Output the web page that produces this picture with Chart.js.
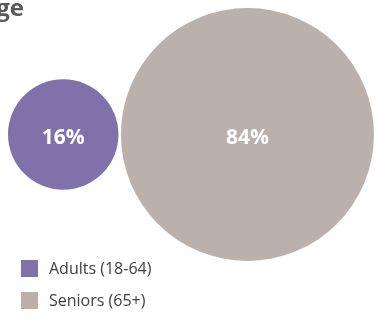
<!DOCTYPE html>
<html>
<head>
<meta charset="utf-8">
<script src="https://cdn.jsdelivr.net/npm/chart.js@4.4.1/dist/chart.umd.min.js"></script>
<style>
  html, body { margin: 0; padding: 0; background: #fff; }
  #wrap { position: relative; width: 381px; height: 320px; overflow: hidden; }
  #legend { position: absolute; left: 21px; top: 259px; font-family: "Open Sans", sans-serif; font-size: 16px; color: #404040; }
  .item { display: flex; align-items: center; height: 18px; margin-bottom: 14px; }
  .box { width: 17px; height: 17px; margin-right: 11px; }
</style>
</head>
<body>
<div id="wrap">
  <canvas id="myChart" width="381" height="320"></canvas>
  <div id="legend"></div>
</div>
<script>
var titleText = 'Age';
var labels = ['Adults (18-64)', 'Seniors (65+)'];
var values = [16, 84];
var colors = ['#7f72ab', '#bab0ac'];

// bubble area proportional to value, circles touching side by side
var maxR = 126.5;
var radii = values.map(function (v) { return maxR * Math.sqrt(v / Math.max.apply(null, values)); });
var xs = [];
var left = 8;
radii.forEach(function (r, i) {
    xs.push(left + r);
    left = left + 2 * r + 2.5;
});
var cy = 134.5;

var datasets = labels.map(function (l, i) {
    return {
        label: l,
        data: [{ x: xs[i], y: cy, r: radii[i], v: values[i] }],
        backgroundColor: colors[i],
        borderWidth: 0,
        hoverBorderWidth: 0,
        clip: false
    };
});

var extras = {
    id: 'extras',
    afterDatasetsDraw: function (chart) {
        var ctx = chart.ctx;
        ctx.save();
        ctx.fillStyle = '#fff';
        ctx.font = 'bold 21px "Open Sans"';
        ctx.textAlign = 'center';
        ctx.textBaseline = 'alphabetic';
        chart.data.datasets.forEach(function (ds, i) {
            var el = chart.getDatasetMeta(i).data[0];
            ctx.fillText(ds.data[0].v + '%', el.x, el.y + 9.5);
        });
        ctx.fillStyle = '#595959';
        ctx.font = 'bold 24px "Open Sans"';
        ctx.textAlign = 'right';
        ctx.fillText(titleText, 24, 16);
        ctx.restore();
    }
};

var myChart = new Chart(document.getElementById('myChart').getContext('2d'), {
    type: 'bubble',
    data: { datasets: datasets },
    options: {
        responsive: false,
        animation: false,
        layout: { padding: 0, autoPadding: false },
        scales: {
            x: { display: false, min: 0, max: 381 },
            y: { display: false, min: 0, max: 320, reverse: true }
        },
        plugins: {
            legend: { display: false },
            tooltip: { enabled: false }
        }
    },
    plugins: [extras]
});

var lg = document.getElementById('legend');
labels.forEach(function (l, i) {
    var d = document.createElement('div');
    d.className = 'item';
    d.innerHTML = '<div class="box" style="background:' + colors[i] + '"></div><span>' + l + '</span>';
    lg.appendChild(d);
});
</script>
</body>
</html>
